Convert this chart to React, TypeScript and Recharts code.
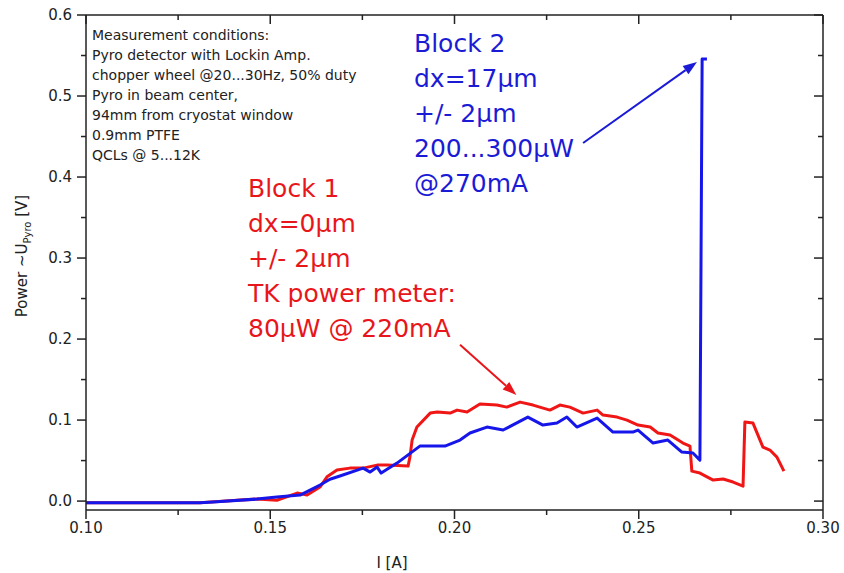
import React from "react";
import { LineChart, Line, XAxis, YAxis, ReferenceLine, Customized } from "recharts";

// Block 1 (red) – current [A] and pyro signal [V]
const block1Current = [
  0.1, 0.1309, 0.141, 0.1464, 0.1518, 0.1573, 0.16, 0.1635, 0.1654, 0.1681,
  0.1716, 0.1752, 0.179, 0.1817, 0.1874, 0.1879, 0.1885, 0.1898, 0.1934, 0.1953,
  0.1988, 0.2007, 0.2034, 0.2069, 0.2115, 0.2142, 0.2178, 0.2213, 0.2259, 0.2286,
  0.2313, 0.2349, 0.2387, 0.2403, 0.2441, 0.2468, 0.2498, 0.2531, 0.2552, 0.2585,
  0.262, 0.2639, 0.2644, 0.2666, 0.2702, 0.2729, 0.2756, 0.2783, 0.2788, 0.281,
  0.2837, 0.2856, 0.2875, 0.2894,
];
const block1Power = [
  -0.002, -0.002, 0.001, 0.0025, 0.001, 0.0099, 0.0074, 0.0173, 0.03, 0.0383,
  0.0407, 0.0407, 0.0444, 0.0444, 0.0432, 0.0543, 0.0753, 0.0914, 0.1086, 0.1099,
  0.1086, 0.1123, 0.1099, 0.1198, 0.1185, 0.116, 0.1222, 0.1185, 0.1123, 0.1185,
  0.116, 0.1086, 0.1123, 0.1062, 0.1037, 0.1, 0.0938, 0.0914, 0.084, 0.0815,
  0.0716, 0.0679, 0.037, 0.0346, 0.0259, 0.0272, 0.0235, 0.0185, 0.0975, 0.0963,
  0.0667, 0.063, 0.0543, 0.037,
];

// Block 2 (blue)
const block2Current = [
  0.1, 0.1174, 0.1309, 0.1345, 0.1464, 0.1518, 0.1581, 0.1608, 0.1635, 0.1662,
  0.1689, 0.1752, 0.1771, 0.179, 0.1801, 0.1844, 0.1906, 0.1974, 0.2015, 0.2042,
  0.2088, 0.2132, 0.2199, 0.224, 0.2278, 0.2305, 0.2332, 0.2387, 0.243, 0.2484,
  0.2498, 0.2539, 0.2579, 0.2617, 0.2647, 0.2666, 0.2672, 0.2685,
];
const block2Power = [
  -0.002, -0.002, -0.002, -0.001, 0.0025, 0.005, 0.0074, 0.0136, 0.0198, 0.027,
  0.031, 0.0407, 0.0358, 0.042, 0.0346, 0.0469, 0.0679, 0.0679, 0.0753, 0.084,
  0.0914, 0.0877, 0.1037, 0.0938, 0.0963, 0.1037, 0.0914, 0.1025, 0.0852, 0.0852,
  0.0877, 0.0716, 0.0753, 0.0605, 0.0593, 0.0506, 0.5457, 0.5457,
];

const xTicks = [0.1, 0.125, 0.15, 0.175, 0.2, 0.225, 0.25, 0.275, 0.3];
const yTicks = [0, 0.05, 0.1, 0.15, 0.2, 0.25, 0.3, 0.35, 0.4, 0.45, 0.5, 0.55, 0.6];

const conditionsText = [
  "Measurement conditions:",
  "Pyro detector with Lockin Amp.",
  "chopper wheel @20...30Hz, 50% duty",
  "Pyro in beam center,",
  "94mm from cryostat window",
  "0.9mm PTFE",
  "QCLs @ 5...12K",
];
const block1Text = ["Block 1", "dx=0µm", "+/- 2µm", "TK power meter:", "80µW @ 220mA"];
const block2Text = ["Block 2", "dx=17µm", "+/- 2µm", "200...300µW", "@270mA"];

// arrow end points in data units
const redArrow = [
  { x: 0.2015, y: 0.193 },
  { x: 0.2168, y: 0.131 },
];
const blueArrow = [
  { x: 0.2349, y: 0.442 },
  { x: 0.2658, y: 0.542 },
];

const block1 = block1Current.map((x, i) => ({ x, y: block1Power[i] }));
const block2 = block2Current.map((x, i) => ({ x, y: block2Power[i] }));

const FONT = "DejaVu Sans";
const AXIS = "#222";
const RED_LINE = "#f01616";
const BLUE_LINE = "#1616ea";
const RED_TEXT = "#e8161b";
const BLUE_TEXT = "#1b1bd6";
const X_DOMAIN = [0.1, 0.3];
const Y_DOMAIN = [-0.011, 0.6];

const WIDTH = 844;
const HEIGHT = 573;
const MARGIN = { top: 15, right: 21, bottom: 23, left: 26 };
const Y_AXIS_W = 60;
const X_AXIS_H = 40;
const PLOT = {
  left: MARGIN.left + Y_AXIS_W,
  right: WIDTH - MARGIN.right,
  top: MARGIN.top,
  bottom: HEIGHT - MARGIN.bottom - X_AXIS_H,
};

const isMajor = (v: number, step: number) => Math.abs(v / step - Math.round(v / step)) < 1e-6;

const BottomTick = (props: any) => {
  const { x, y, payload } = props;
  const major = isMajor(payload.value, 0.05);
  return (
    <g>
      <line x1={x} x2={x} y1={y} y2={y + (major ? 9 : 5)} stroke={AXIS} strokeWidth={1.5} />
      {major && (
        <text x={x} y={y + 23} textAnchor="middle" fontSize={15} fontFamily={FONT} fill={AXIS}>
          {payload.value.toFixed(2)}
        </text>
      )}
    </g>
  );
};

const LeftTick = (props: any) => {
  const { x, y, payload } = props;
  const major = isMajor(payload.value, 0.1);
  return (
    <g>
      <line x1={x - (major ? 9 : 5)} x2={x} y1={y} y2={y} stroke={AXIS} strokeWidth={1.5} />
      {major && (
        <text x={x - 14} y={y + 5} textAnchor="end" fontSize={15} fontFamily={FONT} fill={AXIS}>
          {payload.value.toFixed(1)}
        </text>
      )}
    </g>
  );
};

// top/right frame with inward (mirrored) ticks
const Frame = () => {
  const sx = (v: number) =>
    PLOT.left + ((v - X_DOMAIN[0]) / (X_DOMAIN[1] - X_DOMAIN[0])) * (PLOT.right - PLOT.left);
  const sy = (v: number) =>
    PLOT.bottom - ((v - Y_DOMAIN[0]) / (Y_DOMAIN[1] - Y_DOMAIN[0])) * (PLOT.bottom - PLOT.top);
  return (
    <g stroke={AXIS} strokeWidth={1.5}>
      <line x1={PLOT.left} y1={PLOT.top} x2={PLOT.right} y2={PLOT.top} />
      <line x1={PLOT.right} y1={PLOT.top} x2={PLOT.right} y2={PLOT.bottom} />
      {xTicks.map((t) => (
        <line
          key={"tx" + t}
          x1={sx(t)}
          x2={sx(t)}
          y1={PLOT.top}
          y2={PLOT.top + (isMajor(t, 0.05) ? 9 : 5)}
        />
      ))}
      {yTicks.map((t) => (
        <line
          key={"ty" + t}
          x1={PLOT.right - (isMajor(t, 0.1) ? 9 : 5)}
          x2={PLOT.right}
          y1={sy(t)}
          y2={sy(t)}
        />
      ))}
    </g>
  );
};

const makeArrow = (color: string) => (props: any) => {
  const { x1, y1, x2, y2 } = props;
  const a = Math.atan2(y2 - y1, x2 - x1);
  const len = 14;
  const half = 5;
  const bx = x2 - len * Math.cos(a);
  const by = y2 - len * Math.sin(a);
  const pts = [
    [x2, y2],
    [bx + half * Math.sin(a), by - half * Math.cos(a)],
    [bx - half * Math.sin(a), by + half * Math.cos(a)],
  ]
    .map((p) => p.join(","))
    .join(" ");
  return (
    <g>
      <line x1={x1} y1={y1} x2={bx} y2={by} stroke={color} strokeWidth={2} />
      <polygon points={pts} fill={color} />
    </g>
  );
};

const Annotations = () => (
  <g fontFamily={FONT}>
    {conditionsText.map((t, i) => (
      <text key={t} x={92} y={40 + i * 20} fontSize={14} fill="#222">
        {t}
      </text>
    ))}
    {block2Text.map((t, i) => (
      <text key={t} x={414} y={52 + i * 35} fontSize={25} fill={BLUE_TEXT}>
        {t}
      </text>
    ))}
    {block1Text.map((t, i) => (
      <text key={t} x={248} y={197 + i * 35} fontSize={25} fill={RED_TEXT}>
        {t}
      </text>
    ))}
    <text transform="rotate(-90 27 256)" x={27} y={256} textAnchor="middle" fontSize={15} fill="#222">
      Power ~U
      <tspan fontSize={10} dy={4}>
        Pyro
      </tspan>
      <tspan dy={-4}> [V]</tspan>
    </text>
    <text x={392} y={568} textAnchor="middle" fontSize={15} fill="#222">
      I [A]
    </text>
  </g>
);

export default function App() {
  return (
    <div style={{ position: "absolute", left: 0, top: 0, background: "#fff" }}>
      <LineChart width={WIDTH} height={HEIGHT} margin={MARGIN}>
        <XAxis
          dataKey="x"
          type="number"
          domain={X_DOMAIN}
          ticks={xTicks}
          interval={0}
          height={X_AXIS_H}
          tickSize={0}
          tickMargin={0}
          tick={<BottomTick />}
          axisLine={{ stroke: AXIS, strokeWidth: 1.5 }}
          allowDataOverflow
        />
        <YAxis
          type="number"
          domain={Y_DOMAIN}
          ticks={yTicks}
          interval={0}
          width={Y_AXIS_W}
          tickSize={0}
          tickMargin={0}
          tick={<LeftTick />}
          axisLine={{ stroke: AXIS, strokeWidth: 1.5 }}
          allowDataOverflow
        />
        <Line
          data={block1}
          dataKey="y"
          type="linear"
          stroke={RED_LINE}
          strokeWidth={3}
          strokeLinejoin="round"
          dot={false}
          isAnimationActive={false}
        />
        <Line
          data={block2}
          dataKey="y"
          type="linear"
          stroke={BLUE_LINE}
          strokeWidth={3}
          strokeLinejoin="round"
          dot={false}
          isAnimationActive={false}
        />
        <ReferenceLine segment={redArrow} ifOverflow="visible" shape={makeArrow(RED_TEXT)} />
        <ReferenceLine segment={blueArrow} ifOverflow="visible" shape={makeArrow(BLUE_TEXT)} />
        <Customized component={Frame} />
        <Customized component={Annotations} />
      </LineChart>
    </div>
  );
}
